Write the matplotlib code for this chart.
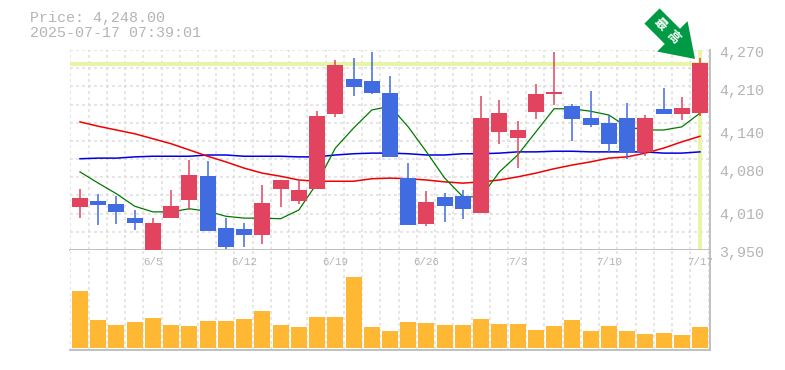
import numpy as np
import matplotlib
matplotlib.use("Agg")
import matplotlib.pyplot as plt
from matplotlib.patches import FancyArrow
from matplotlib.transforms import IdentityTransform

# candles
opens = [4019, 4028, 4024, 4001, 3950, 4001, 4030, 4068, 3985, 3984, 3974, 4048,
         4028, 4048, 4168, 4224, 4220, 4201, 4065, 3992, 4035, 4036, 4009, 4139,
         4129, 4171, 4200, 4180, 4161, 4153, 4161, 4107, 4176, 4168, 4169]
highs = [4048, 4040, 4036, 4014, 4001, 4046, 4094, 4092, 4001, 3993, 4054, 4062,
         4062, 4172, 4254, 4257, 4267, 4228, 4089, 4044, 4041, 4046, 4196, 4190,
         4156, 4216, 4267, 4184, 4204, 4166, 4185, 4166, 4209, 4195, 4257]
lows = [4001, 3990, 3992, 3982, 3950, 4001, 4014, 3980, 3952, 3955, 3960, 4019,
        4024, 4048, 4163, 4196, 4200, 4099, 3990, 3988, 3995, 4000, 4009, 4120,
        4081, 4160, 4182, 4124, 4147, 4107, 4096, 4100, 4168, 4158, 4164]
closes = [4033, 4022, 4011, 3993, 3993, 4020, 4070, 3980, 3955, 3974, 4025, 4062,
          4046, 4164, 4246, 4211, 4201, 4099, 3990, 4027, 4020, 4016, 4161, 4169,
          4142, 4200, 4203, 4160, 4150, 4120, 4107, 4161, 4168, 4177, 4249]

# moving averages
ma_green = [4075, 4057, 4040, 4020, 4011, 4011, 4016, 4012, 4004, 4001, 4001, 4000,
            4014, 4057, 4113, 4145, 4174, 4180, 4147, 4107, 4065, 4035, 4035, 4075,
            4102, 4139, 4176, 4176, 4172, 4166, 4147, 4142, 4142, 4147, 4169]
ma_red = [4155, 4148, 4142, 4136, 4128, 4120, 4110, 4100, 4091, 4081, 4073, 4068,
          4062, 4060, 4060, 4060, 4064, 4065, 4064, 4062, 4059, 4057, 4059, 4062,
          4067, 4073, 4080, 4086, 4091, 4097, 4099, 4105, 4113, 4123, 4132]
ma_blue = [4096, 4097, 4097, 4099, 4100, 4100, 4100, 4102, 4102, 4100, 4100, 4100,
           4099, 4099, 4102, 4104, 4105, 4105, 4104, 4102, 4102, 4104, 4104, 4105,
           4107, 4107, 4108, 4108, 4107, 4107, 4107, 4107, 4105, 4105, 4107]

volume = [57, 28, 23, 26, 30, 23, 22, 27, 27, 29, 37, 23, 21, 31, 31, 71, 21, 17,
          26, 25, 23, 23, 29, 24, 24, 18, 22, 28, 17, 22, 17, 14, 15, 13, 21]

date_ticks = [4, 9, 14, 19, 24, 29, 34]
date_labels = ["6/5", "6/12", "6/19", "6/26", "7/3", "7/10", "7/17"]
price_labels = [4270, 4210, 4140, 4080, 4010, 3950]
last_price = 4248

W, H = 785, 370
RED = "#e2445f"
BLUE = "#416be0"
HILITE = "#e6f5a8"
GRID = "#dedede"
FRAME = "#c0c0c0"
TEXT = "#b5b5b5"
MONO = "Liberation Mono"

fig = plt.figure(figsize=(W / 100, H / 100), dpi=100)
ax = fig.add_axes([70 / W, 1 - 250 / H, 640 / W, 200 / H])
ax_vol = fig.add_axes([70 / W, 1 - 350 / H, 640 / W, 100 / H])

x = np.arange(len(opens))
xlim = (-0.548, 34.548)
grid_x = np.arange(36) - 0.53

for a in (ax, ax_vol):
    a.set_xlim(*xlim)
    a.set_xticks(grid_x)
    a.tick_params(length=0, labelbottom=False, labelleft=False)
    a.grid(axis="x", color=GRID, lw=1.08, ls=(0, (2, 2)), zorder=0)
    a.set_axisbelow(True)
    a.spines["left"].set_visible(False)
    a.spines["top"].set_visible(False)
    a.spines["right"].set_color(FRAME)
    a.spines["bottom"].set_color(FRAME)
    a.spines["right"].set_linewidth(1.4)
    a.spines["bottom"].set_linewidth(1.4)

# price panel
ax.set_ylim(3950, 4270)
ax.set_yticks(np.linspace(3950, 4270, 12))
ax.grid(axis="y", color=GRID, lw=1.08, ls=(0, (2, 2)), zorder=0)
ax.axhline(last_price, color=HILITE, lw=2.9, zorder=1)
ax.axvline(x[-1], color=HILITE, lw=2.9, zorder=1)

ax.plot(x, ma_blue, color="#0000e6", lw=1.1, zorder=2)
ax.plot(x, ma_red, color="#f00000", lw=1.1, zorder=2)
ax.plot(x, ma_green, color="#007a00", lw=0.9, zorder=2)

colors = [RED if c >= o else BLUE for o, c in zip(opens, closes)]
ax.vlines(x, lows, highs, colors=colors, lw=1.1, zorder=3)
ax.bar(x, np.array(closes) - np.array(opens), bottom=opens, width=0.877, color=colors, zorder=4)

# volume panel
ax_vol.set_ylim(-2, 98)
ax_vol.set_yticks([])
ax_vol.bar(x, volume, width=0.877, color="#ffb833", zorder=3)

# labels
for i, lab in zip(date_ticks, date_labels):
    ax_vol.annotate(lab, (x[i], 1), xycoords=("data", "axes fraction"), xytext=(0, -12),
                    textcoords="offset pixels", ha="center", va="center",
                    family=MONO, fontsize=7.8, color=TEXT, zorder=5)
for p in price_labels:
    ax.annotate(f"{p:,}", (1, p), xycoords=("axes fraction", "data"), xytext=(9, -3),
                textcoords="offset pixels", ha="left", va="center", clip_on=False,
                family=MONO, fontsize=10.8, color=TEXT)

fig.text(30 / W, 1 - 18 / H, f"Price: {last_price:,.2f}", family=MONO, fontsize=10.8,
         color=TEXT, va="center", ha="left")
fig.text(30 / W, 1 - 33 / H, "2025-07-17 07:39:01", family=MONO, fontsize=10.8,
         color=TEXT, va="center", ha="left")

# arrow pointing at the new high
tail = (652, H - 16)
tip = (695, H - 59)
fig.add_artist(FancyArrow(tail[0], tail[1], tip[0] - tail[0], tip[1] - tail[1], width=21.5,
                          head_width=43, head_length=32, length_includes_head=True,
                          color="#009a44", lw=0, transform=IdentityTransform(), zorder=10))
for ch, px, py in [("最", 660, 24), ("高", 673, 37)]:
    fig.text(px / W, 1 - py / H, ch, family=["Noto Sans CJK JP", "DejaVu Sans"],
             fontsize=9, fontweight="bold", color="white", rotation=-45,
             rotation_mode="anchor", ha="center", va="center", zorder=11)

fig.savefig("out.png", dpi=100)
